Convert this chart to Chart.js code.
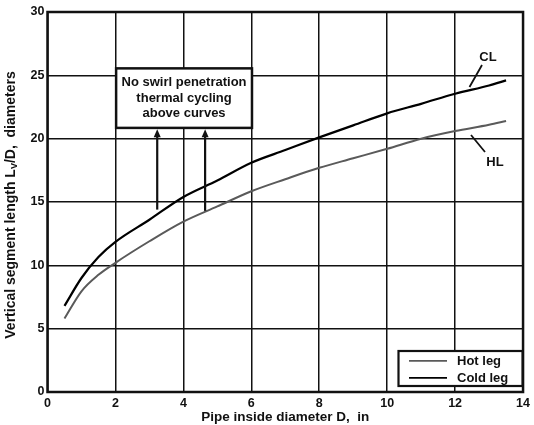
<!DOCTYPE html>
<html>
<head>
<meta charset="utf-8">
<script src="https://cdn.jsdelivr.net/npm/chart.js@4/dist/chart.umd.min.js"></script>
<style>
  html, body { margin: 0; padding: 0; background: #fff; }
  #wrap { width: 534px; height: 425px; }
</style>
</head>
<body>
<div id="wrap"><canvas id="lvChart" width="534" height="425"></canvas></div>
<script>
  // data
  const diameters = [0.5, 1, 1.5, 2, 3, 4, 5, 6, 7, 8, 9, 10, 11, 12, 13, 13.5];
  const hotLeg  = [5.8, 7.95, 9.25, 10.2, 11.9, 13.45, 14.65, 15.85, 16.8, 17.7, 18.45, 19.2, 20.0, 20.6, 21.1, 21.4];
  const coldLeg = [6.8, 9.0, 10.65, 11.85, 13.6, 15.4, 16.7, 18.1, 19.1, 20.1, 21.05, 22.0, 22.75, 23.55, 24.2, 24.6];
  const seriesNames = ["Hot leg", "Cold leg"];
  const xTicks = [0, 2, 4, 6, 8, 10, 12, 14];
  const yTicks = [0, 5, 10, 15, 20, 25, 30];

  const noteLines = ["No swirl penetration", "thermal cycling", "above curves"];
  const arrowXs = [3.23, 4.64];

  const FONT = "'Liberation Sans', Arial, sans-serif";
  const INK = "#111";
  const HOT = "#5a5a5a";
  const COLD = "#000";

  const toPoints = (xs, ys) => xs.map((x, i) => ({ x: x, y: ys[i] }));

  // frame, annotation box, arrows, labels, legend, axis titles
  const decorations = {
    id: "decorations",
    afterDraw(chart) {
      const ctx = chart.ctx;
      const area = chart.chartArea;
      const sx = chart.scales.x, sy = chart.scales.y;
      ctx.save();

      // plot frame
      ctx.strokeStyle = INK;
      ctx.lineWidth = 2.5;
      ctx.strokeRect(area.left, area.top, area.right - area.left, area.bottom - area.top);

      // arrows
      ctx.lineWidth = 2.2;
      ctx.fillStyle = INK;
      arrowXs.forEach((v, i) => {
        const px = sx.getPixelForValue(v);
        const yBottom = sy.getPixelForValue(i === 0 ? 14.4 : 14.3);
        const yTop = sy.getPixelForValue(20.75);
        ctx.beginPath();
        ctx.moveTo(px, yBottom);
        ctx.lineTo(px, yTop + 6);
        ctx.stroke();
        ctx.beginPath();
        ctx.moveTo(px, yTop);
        ctx.lineTo(px - 3.5, yTop + 8);
        ctx.lineTo(px + 3.5, yTop + 8);
        ctx.closePath();
        ctx.fill();
      });

      // note box
      const bx0 = sx.getPixelForValue(2.02), bx1 = sx.getPixelForValue(6.02);
      const by0 = sy.getPixelForValue(25.55), by1 = sy.getPixelForValue(20.85);
      ctx.fillStyle = "#fff";
      ctx.fillRect(bx0, by0, bx1 - bx0, by1 - by0);
      ctx.lineWidth = 2.5;
      ctx.strokeRect(bx0, by0, bx1 - bx0, by1 - by0);
      ctx.fillStyle = INK;
      ctx.font = "bold 13px " + FONT;
      ctx.textAlign = "center";
      ctx.textBaseline = "middle";
      noteLines.forEach((t, i) => {
        ctx.fillText(t, (bx0 + bx1) / 2, by0 + 14.5 + i * 15.5);
      });

      // curve labels
      ctx.lineWidth = 1.8;
      ctx.beginPath();
      ctx.moveTo(482, 65); ctx.lineTo(469.5, 87);
      ctx.moveTo(471, 135); ctx.lineTo(485, 152);
      ctx.stroke();
      ctx.fillText("CL", 488, 57);
      ctx.fillText("HL", 495, 162);

      // legend
      const lx0 = 398.5, ly0 = 351, lx1 = 522.5, ly1 = 386;
      ctx.fillStyle = "#fff";
      ctx.fillRect(lx0, ly0, lx1 - lx0, ly1 - ly0);
      ctx.lineWidth = 2.2;
      ctx.strokeStyle = INK;
      ctx.strokeRect(lx0, ly0, lx1 - lx0, ly1 - ly0);
      const legendColors = [HOT, COLD];
      seriesNames.forEach((name, i) => {
        const ly = 360.8 + i * 17;
        ctx.strokeStyle = legendColors[i];
        ctx.lineWidth = 1.8;
        ctx.beginPath();
        ctx.moveTo(409, ly); ctx.lineTo(447, ly);
        ctx.stroke();
        ctx.fillStyle = INK;
        ctx.textAlign = "left";
        ctx.fillText(name, 457, ly + 0.5);
      });

      // axis titles
      ctx.fillStyle = INK;
      ctx.textAlign = "center";
      ctx.font = "bold 13.5px " + FONT;
      ctx.fillText("Pipe inside diameter D,  in", (area.left + area.right) / 2, 417);

      ctx.translate(11, (area.top + area.bottom) / 2 + 3);
      ctx.rotate(-Math.PI / 2);
      const partA = "Vertical segment length L";
      const partB = "V";
      const partC = "/D,  diameters";
      ctx.font = "bold 14px " + FONT;
      const wA = ctx.measureText(partA).width;
      const wC = ctx.measureText(partC).width;
      ctx.font = "bold 9px " + FONT;
      const wB = ctx.measureText(partB).width;
      let cx = -(wA + wB + wC) / 2;
      ctx.textAlign = "left";
      ctx.font = "bold 14px " + FONT;
      ctx.fillText(partA, cx, 0);
      cx += wA;
      ctx.font = "bold 9px " + FONT;
      ctx.fillText(partB, cx, 4);
      cx += wB;
      ctx.font = "bold 14px " + FONT;
      ctx.fillText(partC, cx, 0);

      ctx.restore();
    }
  };

  const data = {
    datasets: [
      {
        label: seriesNames[0],
        data: toPoints(diameters, hotLeg),
        borderColor: HOT,
        borderWidth: 2,
        pointRadius: 0,
        cubicInterpolationMode: "monotone",
        fill: false
      },
      {
        label: seriesNames[1],
        data: toPoints(diameters, coldLeg),
        borderColor: COLD,
        borderWidth: 2.2,
        pointRadius: 0,
        cubicInterpolationMode: "monotone",
        fill: false
      }
    ]
  };

  const config = {
    type: "line",
    data,
    options: {
      responsive: false,
      animation: false,
      layout: { padding: { left: 0, right: 7, top: 12, bottom: 0 } },
      plugins: {
        legend: { display: false },
        tooltip: { enabled: false }
      },
      scales: {
        x: {
          type: "linear",
          min: 0,
          max: 14,
          afterFit: (scale) => { scale.height = 33; },
          afterBuildTicks: (scale) => { scale.ticks = xTicks.map(v => ({ value: v })); },
          grid: { color: INK, lineWidth: 1.5, drawTicks: false },
          border: { display: false },
          ticks: {
            color: INK,
            padding: 4,
            maxRotation: 0,
            font: { family: FONT, size: 12.5, weight: "bold" }
          }
        },
        y: {
          min: 0,
          max: 30,
          afterFit: (scale) => { scale.width = 47.5; },
          afterBuildTicks: (scale) => { scale.ticks = yTicks.map(v => ({ value: v })); },
          grid: { color: INK, lineWidth: 1.5, drawTicks: false },
          border: { display: false },
          ticks: {
            color: INK,
            padding: 3,
            font: { family: FONT, size: 12.5, weight: "bold" }
          }
        }
      }
    },
    plugins: [decorations]
  };

  // render init block
  const lvChart = new Chart(document.getElementById("lvChart").getContext("2d"), config);
</script>
</body>
</html>
